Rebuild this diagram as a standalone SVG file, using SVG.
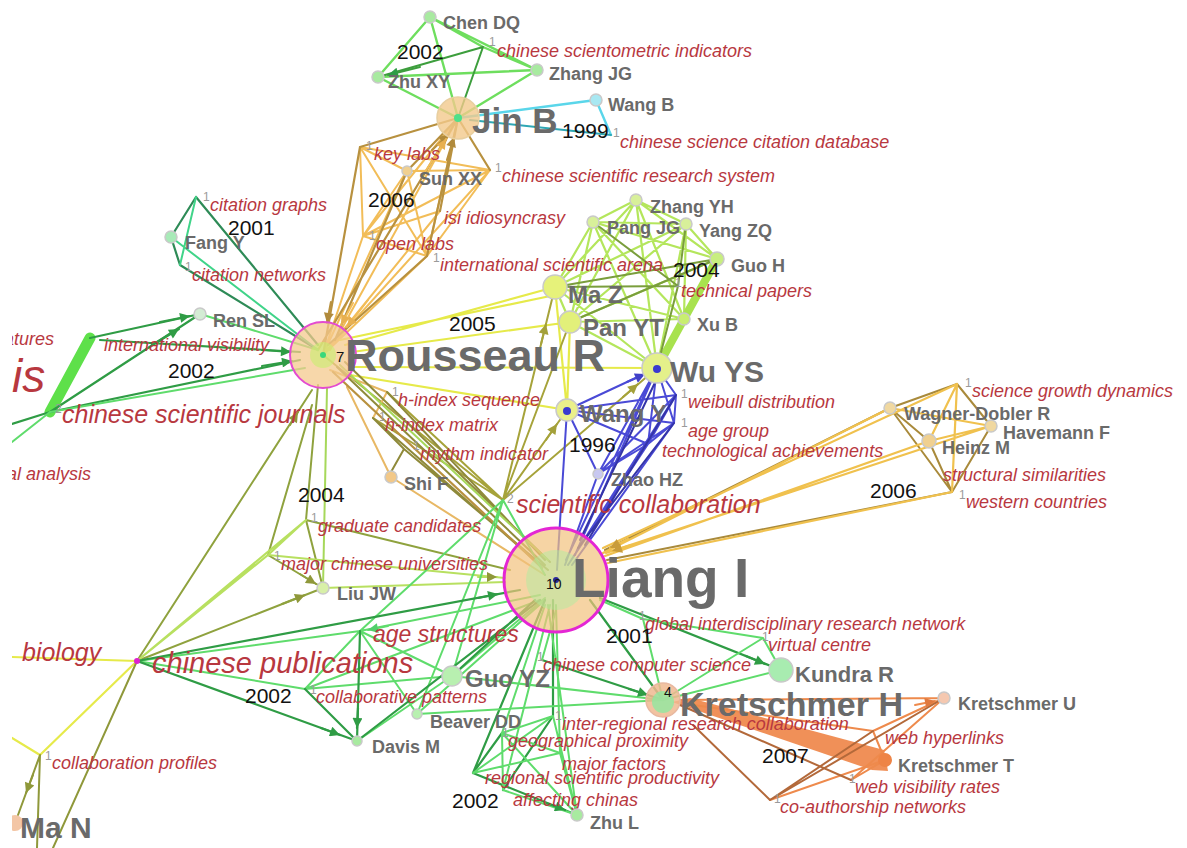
<svg xmlns="http://www.w3.org/2000/svg" width="1187" height="848" viewBox="0 0 1187 848">
<defs>
<clipPath id="clip"><rect x="12" y="0" width="1175" height="848"/></clipPath>
<marker id="aG" viewBox="0 0 10 10" refX="10" refY="5" markerWidth="15" markerHeight="10" markerUnits="userSpaceOnUse" orient="auto"><path d="M0,0L10,5L0,10z" fill="#2f9c45"/></marker>
<marker id="aGl" viewBox="0 0 10 10" refX="10" refY="5" markerWidth="15" markerHeight="10" markerUnits="userSpaceOnUse" orient="auto"><path d="M0,0L10,5L0,10z" fill="#52cf6a"/></marker>
<marker id="aT" viewBox="0 0 10 10" refX="10" refY="5" markerWidth="15" markerHeight="10" markerUnits="userSpaceOnUse" orient="auto"><path d="M0,0L10,5L0,10z" fill="#b08a3c"/></marker>
<marker id="aTl" viewBox="0 0 10 10" refX="10" refY="5" markerWidth="15" markerHeight="10" markerUnits="userSpaceOnUse" orient="auto"><path d="M0,0L10,5L0,10z" fill="#e8b050"/></marker>
<marker id="aO" viewBox="0 0 10 10" refX="10" refY="5" markerWidth="15" markerHeight="10" markerUnits="userSpaceOnUse" orient="auto"><path d="M0,0L10,5L0,10z" fill="#a3a03a"/></marker>
<marker id="aB" viewBox="0 0 10 10" refX="10" refY="5" markerWidth="15" markerHeight="10" markerUnits="userSpaceOnUse" orient="auto"><path d="M0,0L10,5L0,10z" fill="#4040c8"/></marker>
<marker id="aGd" viewBox="0 0 10 10" refX="10" refY="5" markerWidth="15" markerHeight="10" markerUnits="userSpaceOnUse" orient="auto"><path d="M0,0L10,5L0,10z" fill="#c99c3a"/></marker>
<marker id="aOr" viewBox="0 0 10 10" refX="10" refY="5" markerWidth="15" markerHeight="10" markerUnits="userSpaceOnUse" orient="auto"><path d="M0,0L10,5L0,10z" fill="#e07a40"/></marker>
<marker id="aOl" viewBox="0 0 10 10" refX="10" refY="5" markerWidth="15" markerHeight="10" markerUnits="userSpaceOnUse" orient="auto"><path d="M0,0L10,5L0,10z" fill="#8f983a"/></marker>
</defs>
<style>
.e{fill:none;stroke-linecap:round;stroke-linejoin:round}
.g1{stroke:#6ede5e;stroke-width:2.4}
.g2{stroke:#3d9e3d;stroke-width:2}
.gl{stroke:#5fdc6c;stroke-width:2}
.gd{stroke:#2f9c45;stroke-width:2.2}
.cy{stroke:#5ad6ea;stroke-width:2.4}
.cy2{stroke:#2ea7b5;stroke-width:2}
.t1{stroke:#f2bd58;stroke-width:2}
.t2{stroke:#b8913f;stroke-width:2.2}
.c1{stroke:#2e8b57;stroke-width:2.2}
.c2{stroke:#40d489;stroke-width:2}
.l1{stroke:#b4e65c;stroke-width:2.2}
.l2{stroke:#7a9e3c;stroke-width:2}
.y1{stroke:#e6ea4a;stroke-width:2.2}
.ol{stroke:#a6a33a;stroke-width:2}
.b1{stroke:#4a4ad6;stroke-width:2}
.b2{stroke:#3434a8;stroke-width:2}
.h1{stroke:#e8b865;stroke-width:2}
.h2{stroke:#8f8a3a;stroke-width:2}
.lg{stroke:#a6d85a;stroke-width:2}
.au1{stroke:#f0c14e;stroke-width:2.2}
.au2{stroke:#a98a3b;stroke-width:2}
.jo{stroke:#8fa23e;stroke-width:2}
.jl{stroke:#b8e060;stroke-width:2.2}
.o1{stroke:#ee8a4c;stroke-width:2}
.o2{stroke:#b3693a;stroke-width:2}
.mo{stroke:#8f983a;stroke-width:2}
.n{stroke:#c9c9c9;stroke-width:1.5}
text{font-family:"Liberation Sans",Arial,Helvetica,sans-serif}
.au{font-weight:bold;fill:#6a6a6a;font-size:18px}
.kw{font-style:italic;fill:#b8383f;font-size:18px}
.yr{fill:#111;font-size:21px}
.sup{fill:#9a9a9a;font-size:12px}
</style>
<rect width="1187" height="848" fill="#ffffff"/>
<g clip-path="url(#clip)">
<g id="connectors">
<!-- 2002 top cluster -->
<path class="e g1" d="M430,17L378,77M430,17L537,70M430,17L458,118M430,17L483,47M378,77L458,118M537,70L458,118M378,77L537,70M483,47L537,70"/>
<path class="e g2" d="M483,47L378,77M483,47L458,118"/>
<path class="e g2" d="M420,67L388,75" marker-end="url(#aG)"/>
<!-- 1999 -->
<path class="e cy" d="M458,118L596,100M596,100L611,135"/>
<path class="e cy2" d="M611,135L470,120"/>
<!-- 2006 tan cluster -->
<path class="e t1" d="M323,355L363,236M323,355L427,256M323,355L407,171M323,355L490,170M323,355L440,211M360,147L407,171M360,147L490,170M360,147L363,236M360,147L427,256M407,171L363,236M407,171L427,256M407,171L490,170M363,236L427,256M363,236L490,170M427,256L490,170M363,236L458,118M427,256L458,118M440,211L363,236M330,350L458,118"/>
<path class="e t2" d="M360,147L458,118M490,170L458,118M360,147L323,355M407,171L458,118M440,211L458,118M318,350L458,118M427,256L458,118M335,340L407,171M328,345L427,256"/>
<path class="e t2" d="M432,150L449,134" marker-end="url(#aT)"/>
<path class="e t2" d="M447,160L454,137" marker-end="url(#aT)"/>
<path class="e t1" d="M425,172L446,139" marker-end="url(#aTl)"/>
<path class="e t2" d="M331,302L327,323" marker-end="url(#aT)"/>
<path class="e t1" d="M353,303L341,325" marker-end="url(#aTl)"/>
<path class="e t1" d="M368,300L347,327" marker-end="url(#aTl)"/>
<!-- 2001 Fang Y -->
<path class="e c1" d="M196,197L171,237M196,197L318,345M171,237L180,265M180,265L318,350"/>
<path class="e c2" d="M171,237L318,350M196,197L180,265"/>
<!-- 2002 left -->
<path class="e" d="M90,338L50,412" stroke="#5ee04a" stroke-width="11" stroke-linecap="round"/>
<path class="e gd" d="M90,338L200,314M50,412L200,314M50,412L300,360M100,340L300,352M12,424L50,412"/>
<path class="e gl" d="M200,314L318,350M12,442L50,412M50,412L305,368"/>
<path class="e gd" d="M160,322L190,316" marker-end="url(#aG)"/>
<path class="e gd" d="M152,345L179,329" marker-end="url(#aG)"/>
<path class="e gd" d="M262,366L292,361" marker-end="url(#aG)"/>
<path class="e gd" d="M262,350L291,352" marker-end="url(#aG)"/>
<!-- 2004 lime cluster -->
<path class="e l1" d="M636,200L593,222M636,200L686,224M636,200L717,259M636,200L555,287M636,200L570,322M636,200L657,368M636,200L684,319M593,222L686,224M593,222L717,259M593,222L555,287M593,222L570,322M593,222L657,368M593,222L684,319M686,224L717,259M686,224L555,287M686,224L570,322M686,224L684,319M686,224L657,368M717,259L570,322M717,259L684,319M555,287L570,322M555,287L657,368M555,287L684,319M570,322L657,368M570,322L684,319M684,319L657,368"/>
<path class="e" d="M717,259L657,368" stroke="#a8e24e" stroke-width="8"/>
<path class="e l2" d="M593,222L678,286M555,287L717,259M570,322L717,259M678,286L657,368M686,224L678,286M555,287L678,286"/>
<!-- 2005 yellow -->
<path class="e y1" d="M345,345L555,287M352,352L570,322M350,367L657,368M350,375L567,410M555,287L567,410M570,322L567,410M340,340L555,295"/>
<path class="e ol" d="M503,500L555,287M503,500L570,322M503,500L657,368M503,500L567,410M323,355L503,500M387,392L503,500M373,418L503,500"/>
<path class="e ol" d="M541,344L546,324" marker-end="url(#aO)"/>
<path class="e ol" d="M623,397L638,384" marker-end="url(#aO)"/>
<path class="e ol" d="M546,440L557,424" marker-end="url(#aO)"/>
<!-- 1996 blue -->
<path class="e b1" d="M567,410L657,368M567,410L676,395M567,410L674,423M567,410L648,444M567,410L598,474M657,368L676,395M657,368L674,423M657,368L648,444M657,368L598,474M676,395L674,423M676,395L648,444M676,395L598,474M674,423L648,444M674,423L598,474M648,444L598,474M567,410L557,570M657,368L566,560M676,395L570,562M674,423L572,565M648,444L568,565M598,474L565,565M657,368L575,555"/>
<path class="e b2" d="M660,372L580,540M676,395L585,545M674,423L578,548"/>
<path class="e b1" d="M627,382L645,374" marker-end="url(#aB)"/>
<!-- Rousseau lower -->
<path class="e h1" d="M330,370L387,392M387,392L373,418M347,387L391,477M391,477L545,575"/>
<path class="e h2" d="M373,418L540,565M387,392L545,560M404,449L391,472M373,418L404,449M404,449L548,570M337,367L545,565M345,362L550,562"/>
<path class="e t2" d="M333,372L542,568"/>
<path class="e lg" d="M340,365L548,560"/>
<!-- 2006 right gold -->
<path class="e au2" d="M890,408L605,550M952,492L607,560M890,408L957,384M890,408L952,492M957,384L991,426M929,441L952,492M991,426L952,492M890,408L929,441"/>
<path class="e au1" d="M957,384L603,548M991,426L606,553M929,441L605,556M890,408L603,553M952,492L608,563M890,408L991,426M957,384L952,492M957,384L929,441M929,441L991,426"/>
<path class="e au1" d="M628,539L610,548" marker-end="url(#aGd)"/>
<path class="e au1" d="M631,545L612,551" marker-end="url(#aGd)"/>
<!-- 2004 lower-left -->
<path class="e jo" d="M318,385L306,520M312,405L268,555M306,520L323,588M268,555L323,588M306,520L510,570M137,661L312,390M137,661L323,588"/>
<path class="e jl" d="M306,520L268,555M268,555L505,578M323,588L505,582M137,661L268,555M137,661L306,520"/>
<path class="e lg" d="M327,388L323,588"/>
<path class="e jo" d="M290,425L298,412" marker-end="url(#aOl)"/>
<path class="e jo" d="M282,604L305,595" marker-end="url(#aOl)"/>
<path class="e jo" d="M300,574L316,584" marker-end="url(#aOl)"/>
<path class="e jl" d="M478,577L497,577" marker-end="url(#aOl)"/>
<!-- 2002 chinese publications -->
<path class="e gl" d="M137,661L360,631M137,661L305,689M360,631L305,689M360,631L452,676M360,631L417,714M305,689L452,676M357,741L452,676M417,714L545,600M452,676L545,598M360,631L540,595M305,689L540,600M503,500L452,676M503,500L417,714M503,500L360,631M503,500L545,575"/>
<path class="e gd" d="M137,661L520,590M137,661L357,741M360,631L357,741M305,689L357,741M357,741L540,600M452,676L535,600"/>
<path class="e gd" d="M321,728L340,735" marker-end="url(#aG)"/>
<path class="e gd" d="M358,708L357,728" marker-end="url(#aG)"/>
<path class="e gl" d="M388,626L368,630" marker-end="url(#aGl)"/>
<path class="e gd" d="M478,598L498,594" marker-end="url(#aG)"/>
<!-- 2002 bottom -->
<path class="e gd" d="M545,600L473,773M553,600L553,716M473,773L577,815M502,733L473,773M553,716L503,790"/>
<path class="e gl" d="M548,605L577,815M545,605L502,733M550,605L503,790M556,605L560,753M502,733L553,716M502,733L577,815M502,733L503,790M553,716L577,815M560,753L577,815M560,753L473,773M473,773L553,716M503,790L577,815M502,733L560,753"/>
<path class="e gd" d="M546,803L565,810" marker-end="url(#aG)"/>
<!-- 2001 Kundra -->
<path class="e gd" d="M600,598L781,670M590,600L663,700M542,660L663,700"/>
<path class="e gl" d="M643,619L763,638M763,638L781,670M763,638L663,700M643,619L663,700M781,670L663,700M417,714L663,700M452,676L663,700M542,660L556,610M600,600L643,619"/>
<path class="e gd" d="M746,656L765,664" marker-end="url(#aG)"/>
<path class="e gd" d="M629,689L648,695" marker-end="url(#aG)"/>
<!-- 2007 orange -->
<polygon points="672,702 690,698 884,750 888,771 872,770" fill="#ee8446" fill-opacity="0.9"/>
<path class="e o1" d="M680,700L944,698M851,780L944,698M873,731L944,698M873,731L885,760M770,800L885,760M680,703L873,731M851,780L885,760"/>
<path class="e o2" d="M693,725L770,800M680,705L851,780M873,731L770,800M770,800L944,698"/>
<path class="e o1" d="M915,705L935,701" marker-end="url(#aOr)"/>
<!-- bottom-left -->
<path class="e y1" d="M12,657L137,661M137,661L40,755M12,738L40,755"/>
<path class="e mo" d="M40,755L18,815M137,661L53,848M40,755L37,848"/>
<path class="e mo" d="M33,775L26,793" marker-end="url(#aOl)"/>
</g>
<!-- keyword nodes -->
<g id="kw-csi"><text class="sup" x="489" y="46">1</text><text class="kw" x="497" y="57">chinese scientometric indicators</text></g>
<g id="kw-cscd"><text class="sup" x="613" y="137">1</text><text class="kw" x="620" y="148">chinese science citation database</text></g>
<g id="kw-csrs"><text class="sup" x="495" y="172">1</text><text class="kw" x="502" y="182">chinese scientific research system</text></g>
<g id="kw-keylabs"><text class="sup" x="366" y="150">1</text><text class="kw" x="374" y="160">key labs</text></g>
<g id="kw-isi"><text class="kw" x="444" y="224">isi idiosyncrasy</text></g>
<g id="kw-openlabs"><text class="sup" x="369" y="240">1</text><text class="kw" x="376" y="250">open labs</text></g>
<g id="kw-isa"><text class="sup" x="433" y="262">1</text><text class="kw" x="440" y="271">international scientific arena</text></g>
<g id="kw-cg"><text class="sup" x="203" y="201">1</text><text class="kw" x="210" y="211">citation graphs</text></g>
<g id="kw-cn"><text class="sup" x="185" y="271">1</text><text class="kw" x="192" y="281">citation networks</text></g>
<g id="kw-iv"><text class="kw" x="104" y="351">international visibility</text></g>
<g id="kw-atures"><text class="kw" x="4" y="345">atures</text></g>
<g id="kw-is"><text class="kw" x="12" y="392" style="font-size:46px">is</text></g>
<g id="kw-csj"><text class="sup" x="55" y="413">2</text><text class="kw" x="62" y="423" style="font-size:25px">chinese scientific journals</text></g>
<g id="kw-al"><text class="kw" x="7" y="480">al analysis</text></g>
<g id="kw-hs"><text class="sup" x="392" y="396">1</text><text class="kw" x="398" y="406">h-index sequence</text></g>
<g id="kw-hm"><text class="sup" x="379" y="421">1</text><text class="kw" x="385" y="431">h-index matrix</text></g>
<g id="kw-ri"><text class="sup" x="413" y="450">1</text><text class="kw" x="420" y="460">rhythm indicator</text></g>
<g id="kw-tp"><text class="sup" x="675" y="287">1</text><text class="kw" x="681" y="297">technical papers</text></g>
<g id="kw-wd"><text class="sup" x="681" y="398">1</text><text class="kw" x="688" y="408">weibull distribution</text></g>
<g id="kw-ag"><text class="sup" x="681" y="427">1</text><text class="kw" x="688" y="437">age group</text></g>
<g id="kw-ta"><text class="kw" x="662" y="457">technological achievements</text></g>
<g id="kw-sc"><text class="sup" x="507" y="503">2</text><text class="kw" x="516" y="513" style="font-size:25px">scientific collaboration</text></g>
<g id="kw-sgd"><text class="sup" x="965" y="387">1</text><text class="kw" x="972" y="397">science growth dynamics</text></g>
<g id="kw-ss"><text class="kw" x="943" y="481">structural similarities</text></g>
<g id="kw-wc"><text class="sup" x="959" y="499">1</text><text class="kw" x="966" y="508">western countries</text></g>
<g id="kw-gc"><text class="sup" x="311" y="522">1</text><text class="kw" x="318" y="532">graduate candidates</text></g>
<g id="kw-mcu"><text class="sup" x="274" y="560">1</text><text class="kw" x="281" y="570">major chinese universities</text></g>
<g id="kw-bio"><text class="kw" x="22" y="661" style="font-size:25px">biology</text></g>
<g id="kw-cp"><circle cx="137" cy="661" r="3" fill="#e020d0"/><text class="kw" x="152" y="673" style="font-size:29px">chinese publications</text></g>
<g id="kw-as"><text class="kw" x="373" y="642" style="font-size:23px">age structures</text></g>
<g id="kw-cpat"><text class="sup" x="310" y="694">1</text><text class="kw" x="316" y="703">collaborative patterns</text></g>
<g id="kw-gi"><text class="sup" x="639" y="620">1</text><text class="kw" x="645" y="630">global interdisciplinary research network</text></g>
<g id="kw-vc"><text class="sup" x="762" y="641">1</text><text class="kw" x="768" y="651">virtual centre</text></g>
<g id="kw-ccs"><text class="sup" x="537" y="661">1</text><text class="kw" x="543" y="671">chinese computer science</text></g>
<g id="kw-ir"><text class="sup" x="555" y="720">1</text><text class="kw" x="562" y="730">inter-regional research collaboration</text></g>
<g id="kw-gp"><text class="sup" x="502" y="737">1</text><text class="kw" x="508" y="747">geographical proximity</text></g>
<g id="kw-mf"><text class="kw" x="562" y="770">major factors</text></g>
<g id="kw-rsp"><text class="kw" x="485" y="784">regional scientific productivity</text></g>
<g id="kw-ac"><text class="kw" x="513" y="806">affecting chinas</text></g>
<g id="kw-wh"><text class="kw" x="885" y="744">web hyperlinks</text></g>
<g id="kw-wvr"><text class="sup" x="849" y="783">1</text><text class="kw" x="855" y="793">web visibility rates</text></g>
<g id="kw-can"><text class="sup" x="774" y="803">1</text><text class="kw" x="780" y="813">co-authorship networks</text></g>
<g id="kw-cprof"><text class="sup" x="45" y="760">1</text><text class="kw" x="52" y="769">collaboration profiles</text></g>
<!-- author nodes -->
<g id="n-chendq"><circle class="n" cx="430" cy="17" r="6" fill="#a8eaa0"/><text class="au" x="443" y="29">Chen DQ</text></g>
<g id="n-zhuxy"><circle class="n" cx="378" cy="77" r="6" fill="#a8eaa0"/><text class="au" x="388" y="88">Zhu XY</text></g>
<g id="n-zhangjg"><circle class="n" cx="537" cy="70" r="6" fill="#a8eaa0"/><text class="au" x="549" y="80">Zhang JG</text></g>
<g id="n-jinb"><circle cx="458" cy="118" r="21" fill="#f3c98c" fill-opacity="0.8" stroke="#e8cfa0" stroke-width="1.5"/><circle cx="458" cy="118" r="4" fill="#4fe08a"/><text class="au" x="472" y="133" style="font-size:35px">Jin B</text></g>
<g id="n-wangb"><circle class="n" cx="596" cy="100" r="6" fill="#a8e8f2"/><text class="au" x="608" y="111">Wang B</text></g>
<g id="n-sunxx"><circle class="n" cx="407" cy="171" r="5" fill="#f0d090"/><text class="au" x="419" y="185">Sun XX</text></g>
<g id="n-fangy"><circle class="n" cx="171" cy="237" r="6" fill="#a8eab8"/><text class="au" x="185" y="249">Fang Y</text></g>
<g id="n-rensl"><circle class="n" cx="200" cy="314" r="6" fill="#d4ecd4"/><text class="au" x="213" y="327">Ren SL</text></g>
<g id="n-rousseau"><circle cx="323" cy="355" r="33" fill="#f4c98e" fill-opacity="0.75" stroke="#e34bd0" stroke-width="2"/><circle cx="323" cy="355" r="13" fill="#c8ee70" fill-opacity="0.6"/><circle cx="323" cy="355" r="3" fill="#3ad87a"/><text x="336" y="362" style="font-size:15px" fill="#111">7</text><text class="au" x="345" y="371" style="font-size:45px">Rousseau R</text></g>
<g id="n-zhangyh"><circle class="n" cx="636" cy="200" r="6" fill="#d8f09a"/><text class="au" x="650" y="213">Zhang YH</text></g>
<g id="n-pangjg"><circle class="n" cx="593" cy="222" r="6" fill="#d8f09a"/><text class="au" x="607" y="234">Pang JG</text></g>
<g id="n-yangzq"><circle class="n" cx="686" cy="224" r="6" fill="#d8f09a"/><text class="au" x="699" y="237">Yang ZQ</text></g>
<g id="n-guoh"><circle class="n" cx="717" cy="259" r="7" fill="#c8ee80"/><text class="au" x="731" y="272">Guo H</text></g>
<g id="n-maz"><circle class="n" cx="555" cy="287" r="12" fill="#e6f27a"/><text class="au" x="568" y="303" style="font-size:24px">Ma Z</text></g>
<g id="n-panyt"><circle class="n" cx="570" cy="322" r="11" fill="#e2f07a"/><text class="au" x="583" y="336" style="font-size:24px">Pan YT</text></g>
<g id="n-xub"><circle class="n" cx="684" cy="319" r="6" fill="#c8ee70"/><text class="au" x="697" y="331">Xu B</text></g>
<g id="n-wuys"><circle class="n" cx="657" cy="368" r="15" fill="#e4f08a"/><circle cx="657" cy="369" r="4" fill="#3a3ad0"/><text class="au" x="670" y="382" style="font-size:30px">Wu YS</text></g>
<g id="n-wangy"><circle class="n" cx="567" cy="410" r="11" fill="#eaf08a"/><circle cx="567" cy="411" r="4" fill="#3a3ad0"/><text class="au" x="580" y="422" style="font-size:24px">Wang Y</text></g>
<g id="n-zhaohz"><circle class="n" cx="598" cy="474" r="5" fill="#c8c8f0"/><text class="au" x="611" y="486">Zhao HZ</text></g>
<g id="n-shif"><circle class="n" cx="391" cy="477" r="6" fill="#f2c888"/><text class="au" x="404" y="490">Shi F</text></g>
<g id="n-liujw"><circle class="n" cx="323" cy="588" r="6" fill="#d8f0a8"/><text class="au" x="337" y="600">Liu JW</text></g>
<g id="n-liang"><circle cx="556" cy="580" r="52" fill="#f2c27e" fill-opacity="0.7" stroke="#e426d4" stroke-width="3"/><circle cx="556" cy="580" r="30" fill="#a8f0a0" fill-opacity="0.45"/><circle cx="556" cy="580" r="3" fill="#2a2a9a"/><text x="546" y="589" style="font-size:14px" fill="#111">10</text><text class="au" x="572" y="597" style="font-size:55px">Liang I</text></g>
<g id="n-guoyz"><circle class="n" cx="452" cy="676" r="10" fill="#b8f0b0"/><text class="au" x="465" y="687" style="font-size:24px">Guo YZ</text></g>
<g id="n-beaverdd"><circle class="n" cx="417" cy="714" r="5" fill="#b8f0b0"/><text class="au" x="430" y="728">Beaver DD</text></g>
<g id="n-davism"><circle class="n" cx="357" cy="741" r="5" fill="#a8eaa0"/><text class="au" x="372" y="753">Davis M</text></g>
<g id="n-zhul"><circle class="n" cx="577" cy="815" r="6" fill="#a8eaa0"/><text class="au" x="590" y="829">Zhu L</text></g>
<g id="n-kundra"><circle class="n" cx="781" cy="670" r="12" fill="#a8ecb0"/><text class="au" x="795" y="682" style="font-size:22px">Kundra R</text></g>
<g id="n-kretschmerh"><circle cx="663" cy="700" r="17" fill="#f0b890" fill-opacity="0.85" stroke="#e8b8a0" stroke-width="1.5"/><circle cx="663" cy="702" r="11" fill="#90e8a0" fill-opacity="0.8"/><text x="664" y="697" style="font-size:14px" fill="#111">4</text><text class="au" x="680" y="716" style="font-size:34px">Kretschmer H</text></g>
<g id="n-kretschmeru"><circle class="n" cx="944" cy="698" r="6" fill="#f5c8b0"/><text class="au" x="958" y="710">Kretschmer U</text></g>
<g id="n-kretschmert"><circle cx="885" cy="760" r="7" fill="#ee8446"/><text class="au" x="898" y="772">Kretschmer T</text></g>
<g id="n-wagner"><circle class="n" cx="890" cy="408" r="6" fill="#f0d8a0"/><text class="au" x="904" y="420">Wagner-Dobler R</text></g>
<g id="n-havemann"><circle class="n" cx="991" cy="426" r="6" fill="#f0d8a0"/><text class="au" x="1003" y="439">Havemann F</text></g>
<g id="n-heinz"><circle class="n" cx="929" cy="441" r="7" fill="#f0d090"/><text class="au" x="942" y="454">Heinz M</text></g>
<g id="n-man"><circle cx="15" cy="823" r="8" fill="#f0b890" fill-opacity="0.8"/><text class="au" x="20" y="838" style="font-size:30px">Ma N</text></g>
<!-- years -->
<g id="years">
<text class="yr" x="397" y="59">2002</text>
<text class="yr" x="562" y="138">1999</text>
<text class="yr" x="368" y="207">2006</text>
<text class="yr" x="228" y="235">2001</text>
<text class="yr" x="673" y="277">2004</text>
<text class="yr" x="449" y="331">2005</text>
<text class="yr" x="168" y="378">2002</text>
<text class="yr" x="569" y="452">1996</text>
<text class="yr" x="298" y="502">2004</text>
<text class="yr" x="870" y="498">2006</text>
<text class="yr" x="606" y="643">2001</text>
<text class="yr" x="245" y="703">2002</text>
<text class="yr" x="762" y="763">2007</text>
<text class="yr" x="452" y="808">2002</text>
</g>
</g>
</svg>
